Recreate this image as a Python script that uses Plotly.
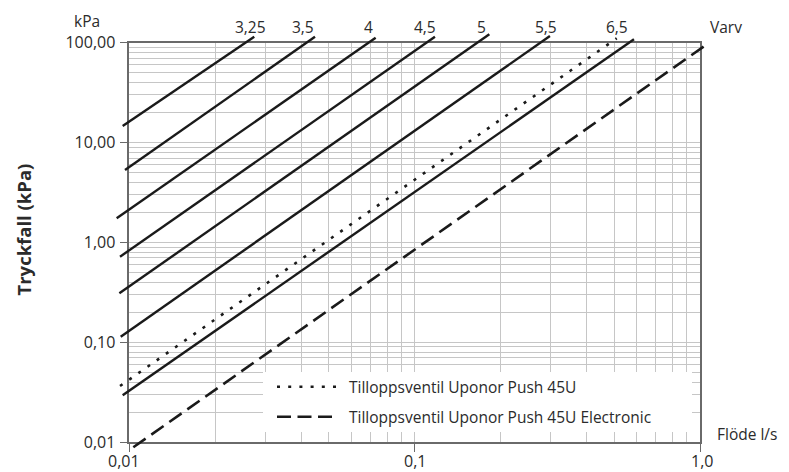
import numpy as np
import plotly.graph_objects as go

# ---------------- data ----------------
rev_labels = ["3,25", "3,5", "4", "4,5", "5", "5,5", "6,5"]
rev_flow_start = [0.00948, 0.00966, 0.00903, 0.00928, 0.00923, 0.00933, 0.00948]
rev_flow_end = [0.02741, 0.04475, 0.0730, 0.1178, 0.1827, 0.2979, 0.587]
rev_dp_start = [14.66, 5.32, 1.747, 0.721, 0.310, 0.114, 0.02955]
rev_dp_end = [114.8, 114.8, 112.2, 114.8, 121.4, 116.7, 108.1]
label_flow = [0.02649, 0.04052, 0.06918, 0.1087, 0.1718, 0.2886, 0.5105]

push_flow = [0.00928, 0.5106]
push_dp = [0.0366, 110.7]
elec_flow = [0.01033, 1.069]
elec_dp = [0.00891, 98.6]

legend_names = ["Tilloppsventil Uponor Push 45U",
                "Tilloppsventil Uponor Push 45U Electronic"]

x_tickvals = [0.01, 0.1, 1.0]
x_ticktext = ["0,01", "0,1", "1,0"]
y_tickvals = [0.01, 0.1, 1, 10, 100]
y_ticktext = ["0,01", "0,10", "1,00", "10,00", "100,00"]
x_minor = [k * 10.0 ** e for e in (-2, -1) for k in range(2, 10)]
y_minor = [k * 10.0 ** e for e in (-2, -1, 0, 1) for k in range(2, 10)]

# ---------------- geometry ----------------
OFF = 8                       # page body offset of the figure div
W, H = 789 - OFF, 472 - OFF
L, R, T, B = 105, 66, 22, 9
FX0, FX1 = 129.3 - OFF, 700.0 - OFF      # frame left/right (px in figure)
FY0, FY1 = 42.7 - OFF, 442.3 - OFF       # frame top/bottom
PW, PH = W - L - R, H - T - B


def pxx(px):
    return (px - OFF - L) / PW


def pxy(py):
    return (H - B - (py - OFF)) / PH


xdec = (FX1 - FX0) / 2.0
ydec = (FY1 - FY0) / 4.0
x2_range = [-2 - (FX0 - L) / xdec, 0 + (W - R - FX1) / xdec]
y2_range = [-2 - (H - B - FY1) / ydec, 2 + (FY0 - T) / ydec]

FONT = "Open Sans"
TXT = "#2b2b2b"
INK = "#1a1a1a"
GRID = "#c6c6c6"
FRAME = "#6a6a6a"
FS = 15.5

fig = go.Figure()
fig.add_trace(go.Scatter(x=[], y=[], xaxis="x", yaxis="y", showlegend=False))

for i in range(len(rev_labels)):
    fig.add_trace(go.Scatter(
        x=[rev_flow_start[i], rev_flow_end[i]], y=[rev_dp_start[i], rev_dp_end[i]],
        xaxis="x2", yaxis="y2", mode="lines", name=rev_labels[i],
        line=dict(color=INK, width=2.4), showlegend=False, hoverinfo="skip"))

fig.add_trace(go.Scatter(
    x=push_flow, y=push_dp, xaxis="x2", yaxis="y2", mode="lines", name=legend_names[0],
    line=dict(color=INK, width=2.6, dash="3px,8.2px"), showlegend=False, hoverinfo="skip"))
fig.add_trace(go.Scatter(
    x=elec_flow, y=elec_dp, xaxis="x2", yaxis="y2", mode="lines", name=legend_names[1],
    line=dict(color=INK, width=2.6, dash="15px,7px"), showlegend=False, hoverinfo="skip"))

axis_common = dict(
    type="log", showline=True, linecolor=FRAME, linewidth=1.5, mirror=True,
    ticks="outside", ticklen=8, tickcolor=FRAME, tickwidth=1.2, automargin=False,
    showgrid=True, gridcolor=GRID, gridwidth=1, zeroline=False,
    tickfont=dict(family=FONT, size=16, color=TXT))

fig.update_layout(
    width=W, height=H, margin=dict(l=L, r=R, t=T, b=B, autoexpand=False),
    paper_bgcolor="white", plot_bgcolor="rgba(0,0,0,0)",
    font=dict(family=FONT, color=TXT),
    showlegend=False,
    xaxis=dict(axis_common, range=[-2, 0], domain=[pxx(129.3), pxx(700.0)], anchor="y",
               tickmode="array", tickvals=x_tickvals, ticktext=x_ticktext,
               showticklabels=False,
               minor=dict(tickmode="array", tickvals=x_minor, showgrid=True,
                          gridcolor=GRID, gridwidth=1, ticks="")),
    yaxis=dict(axis_common, range=[-2, 2], domain=[pxy(442.3), pxy(42.7)], anchor="x",
               tickmode="array", tickvals=y_tickvals, ticktext=y_ticktext,
               ticklabelstandoff=1,
               minor=dict(tickmode="array", tickvals=y_minor, showgrid=True,
                          gridcolor=GRID, gridwidth=1, ticks="")),
    xaxis2=dict(type="log", range=x2_range, domain=[0, 1], anchor="y2", visible=False),
    yaxis2=dict(type="log", range=y2_range, domain=[0, 1], anchor="x2", visible=False),
)

# ---------------- legend (drawn box) ----------------
shapes = [
    dict(type="rect", xref="paper", yref="paper", x0=pxx(263), x1=pxx(692),
         y0=pxy(432), y1=pxy(372), fillcolor="white", line=dict(width=0), layer="above"),
    dict(type="line", xref="paper", yref="paper", x0=pxx(277), x1=pxx(336),
         y0=pxy(386.7), y1=pxy(386.7), line=dict(color=INK, width=2.6, dash="3px,8.2px"),
         layer="above"),
    dict(type="line", xref="paper", yref="paper", x0=pxx(277), x1=pxx(332),
         y0=pxy(416.7), y1=pxy(416.7), line=dict(color=INK, width=2.6, dash="14px,6.5px"),
         layer="above"),
]
fig.update_layout(shapes=shapes)

ann = []
for name, py in zip(legend_names, [386.7, 416.7]):
    ann.append(dict(text=name, xref="paper", yref="paper", x=pxx(347), y=pxy(py),
                    xanchor="left", yanchor="middle", showarrow=False,
                    font=dict(family=FONT, size=FS, color=TXT)))

# x tick labels (placed just under the ticks)
for v, t, sh in zip(x_tickvals, x_ticktext, [-5, 0, 2]):
    ann.append(dict(text=t, xref="x", yref="paper", x=np.log10(v), y=pxy(460.5),
                    xanchor="center", yanchor="middle", xshift=sh, showarrow=False,
                    font=dict(family=FONT, size=16, color=TXT)))

for lab, f in zip(rev_labels, label_flow):
    ann.append(dict(text=lab, xref="x", yref="paper", x=np.log10(f), y=pxy(26.7),
                    xanchor="center", yanchor="middle", showarrow=False,
                    font=dict(family=FONT, size=FS, color=TXT)))

ann.append(dict(text="Varv", xref="paper", yref="paper", x=pxx(708), y=pxy(26.7),
                xanchor="left", yanchor="middle", showarrow=False,
                font=dict(family=FONT, size=FS, color=TXT)))
ann.append(dict(text="kPa", xref="paper", yref="paper", x=pxx(86.7), y=pxy(21),
                xanchor="center", yanchor="middle", showarrow=False,
                font=dict(family=FONT, size=FS, color=TXT)))
ann.append(dict(text="Flöde l/s", xref="paper", yref="paper", x=pxx(715), y=pxy(434),
                xanchor="left", yanchor="middle", showarrow=False,
                font=dict(family=FONT, size=FS, color=TXT)))
ann.append(dict(text="<b>Tryckfall (kPa)</b>", xref="paper", yref="paper",
                x=pxx(22.5), y=pxy(230), textangle=-90, xanchor="center", yanchor="middle",
                showarrow=False, font=dict(family=FONT, size=18.5, color=TXT)))
fig.update_layout(annotations=ann)

fig.write_html("out.html")
